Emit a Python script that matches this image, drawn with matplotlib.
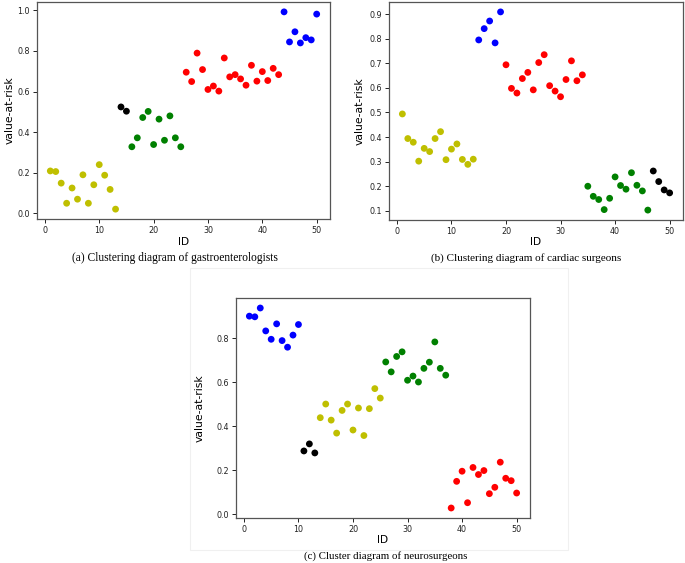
import numpy as np
import matplotlib
matplotlib.use("Agg")
import matplotlib.pyplot as plt
from matplotlib.patches import Rectangle

# =========================
# DATA
# =========================

ids = np.arange(1, 51)

# (a) gastroenterologists
var_a = [0.209, 0.206, 0.149, 0.050, 0.125, 0.070, 0.190, 0.050, 0.141, 0.240,
         0.188, 0.118, 0.021, 0.524, 0.503, 0.328, 0.372, 0.472, 0.502, 0.339,
         0.464, 0.360, 0.480, 0.372, 0.328, 0.695, 0.649, 0.789, 0.708, 0.610,
         0.627, 0.602, 0.765, 0.672, 0.683, 0.662, 0.631, 0.729, 0.651, 0.698,
         0.654, 0.714, 0.683, 0.992, 0.844, 0.894, 0.839, 0.865, 0.854, 0.981]
cluster_a = ["y"] * 13 + ["k"] * 2 + ["g"] * 10 + ["r"] * 18 + ["b"] * 7

# (b) cardiac surgeons
var_b = [0.494, 0.394, 0.379, 0.302, 0.354, 0.341, 0.394, 0.422, 0.308, 0.351,
         0.372, 0.309, 0.289, 0.310, 0.795, 0.841, 0.872, 0.783, 0.909, 0.694,
         0.598, 0.579, 0.638, 0.663, 0.592, 0.703, 0.735, 0.609, 0.587, 0.564,
         0.634, 0.710, 0.629, 0.653, 0.200, 0.159, 0.146, 0.105, 0.151, 0.238,
         0.203, 0.188, 0.255, 0.204, 0.181, 0.103, 0.262, 0.219, 0.185, 0.173]
cluster_b = ["y"] * 14 + ["b"] * 5 + ["r"] * 15 + ["g"] * 12 + ["k"] * 4

# (c) neurosurgeons
var_c = [0.900, 0.897, 0.937, 0.833, 0.795, 0.865, 0.789, 0.759, 0.814, 0.862,
         0.288, 0.320, 0.279, 0.439, 0.501, 0.428, 0.369, 0.472, 0.501, 0.383,
         0.483, 0.358, 0.480, 0.571, 0.528, 0.692, 0.647, 0.717, 0.738, 0.609,
         0.628, 0.601, 0.663, 0.691, 0.783, 0.663, 0.632, 0.029, 0.150, 0.196,
         0.053, 0.213, 0.181, 0.199, 0.094, 0.123, 0.237, 0.164, 0.153, 0.097]
cluster_c = ["b"] * 10 + ["k"] * 3 + ["y"] * 12 + ["g"] * 12 + ["r"] * 13

captions = [
    "(a) Clustering diagram of gastroenterologists",
    "(b) Clustering diagram of cardiac surgeons",
    "(c) Cluster diagram of neurosurgeons",
]

# =========================
# FIGURE
# =========================

fig = plt.figure(figsize=(6.85, 5.63), dpi=100)

W, H = 685, 563


def px_axes(left, top, right, bottom):
    return fig.add_axes([left / W, 1 - bottom / H, (right - left) / W, (bottom - top) / H])


# faint frame around panel (c), as in the source page
fig.patches.append(Rectangle((190 / W, 1 - 550 / H), 378 / W, 282 / H,
                             transform=fig.transFigure, fill=False,
                             edgecolor="#f0f0f0", linewidth=0.8))

# axes box in pixels, ylabel x and xlabel y in pixels
layout = [
    ((37, 2, 330, 219), 10, 242),
    ((389, 2, 683, 220), 360, 242),
    ((236, 298, 530, 518), 200, 540),
]

panels = [
    (var_a, cluster_a, [0.0, 0.2, 0.4, 0.6, 0.8, 1.0]),
    (var_b, cluster_b, [0.1, 0.2, 0.3, 0.4, 0.5, 0.6, 0.7, 0.8, 0.9]),
    (var_c, cluster_c, [0.0, 0.2, 0.4, 0.6, 0.8]),
]

for (box, ylab_x, xlab_y), (vals, clus, yt) in zip(layout, panels):
    ax = px_axes(*box)
    left, top, right, bottom = box
    ax.scatter(ids, vals, c=clus, s=24, linewidths=0)
    ax.set_xticks([0, 10, 20, 30, 40, 50])
    ax.set_yticks(yt)
    ax.set_yticklabels([f"{v:.1f}" for v in yt])
    ax.tick_params(labelsize=5.8, length=3, width=0.7, pad=2, colors="#222222")
    for sp in ax.spines.values():
        sp.set_color("#555555")
        sp.set_linewidth(0.9)
    ax.set_xlabel("ID", fontsize=7.6)
    ax.set_ylabel("value-at-risk", fontsize=7.8)
    ax.xaxis.label.set_va("center")
    ax.yaxis.label.set_va("center")
    ax.xaxis.set_label_coords(0.5, -(xlab_y - bottom) / (bottom - top))
    ax.yaxis.set_label_coords(-(left - ylab_x) / (right - left), 0.5)

# =========================
# CAPTIONS
# =========================

fig.text(175 / W, 1 - 258 / H, captions[0], ha="center", va="center",
         family="Liberation Serif", fontsize=8.3)
fig.text(526 / W, 1 - 258 / H, captions[1], ha="center", va="center",
         family="Liberation Serif", fontsize=8.0)
fig.text(386 / W, 1 - 556 / H, captions[2], ha="center", va="center",
         family="Liberation Serif", fontsize=7.8)

fig.savefig("out.png", dpi=100)
